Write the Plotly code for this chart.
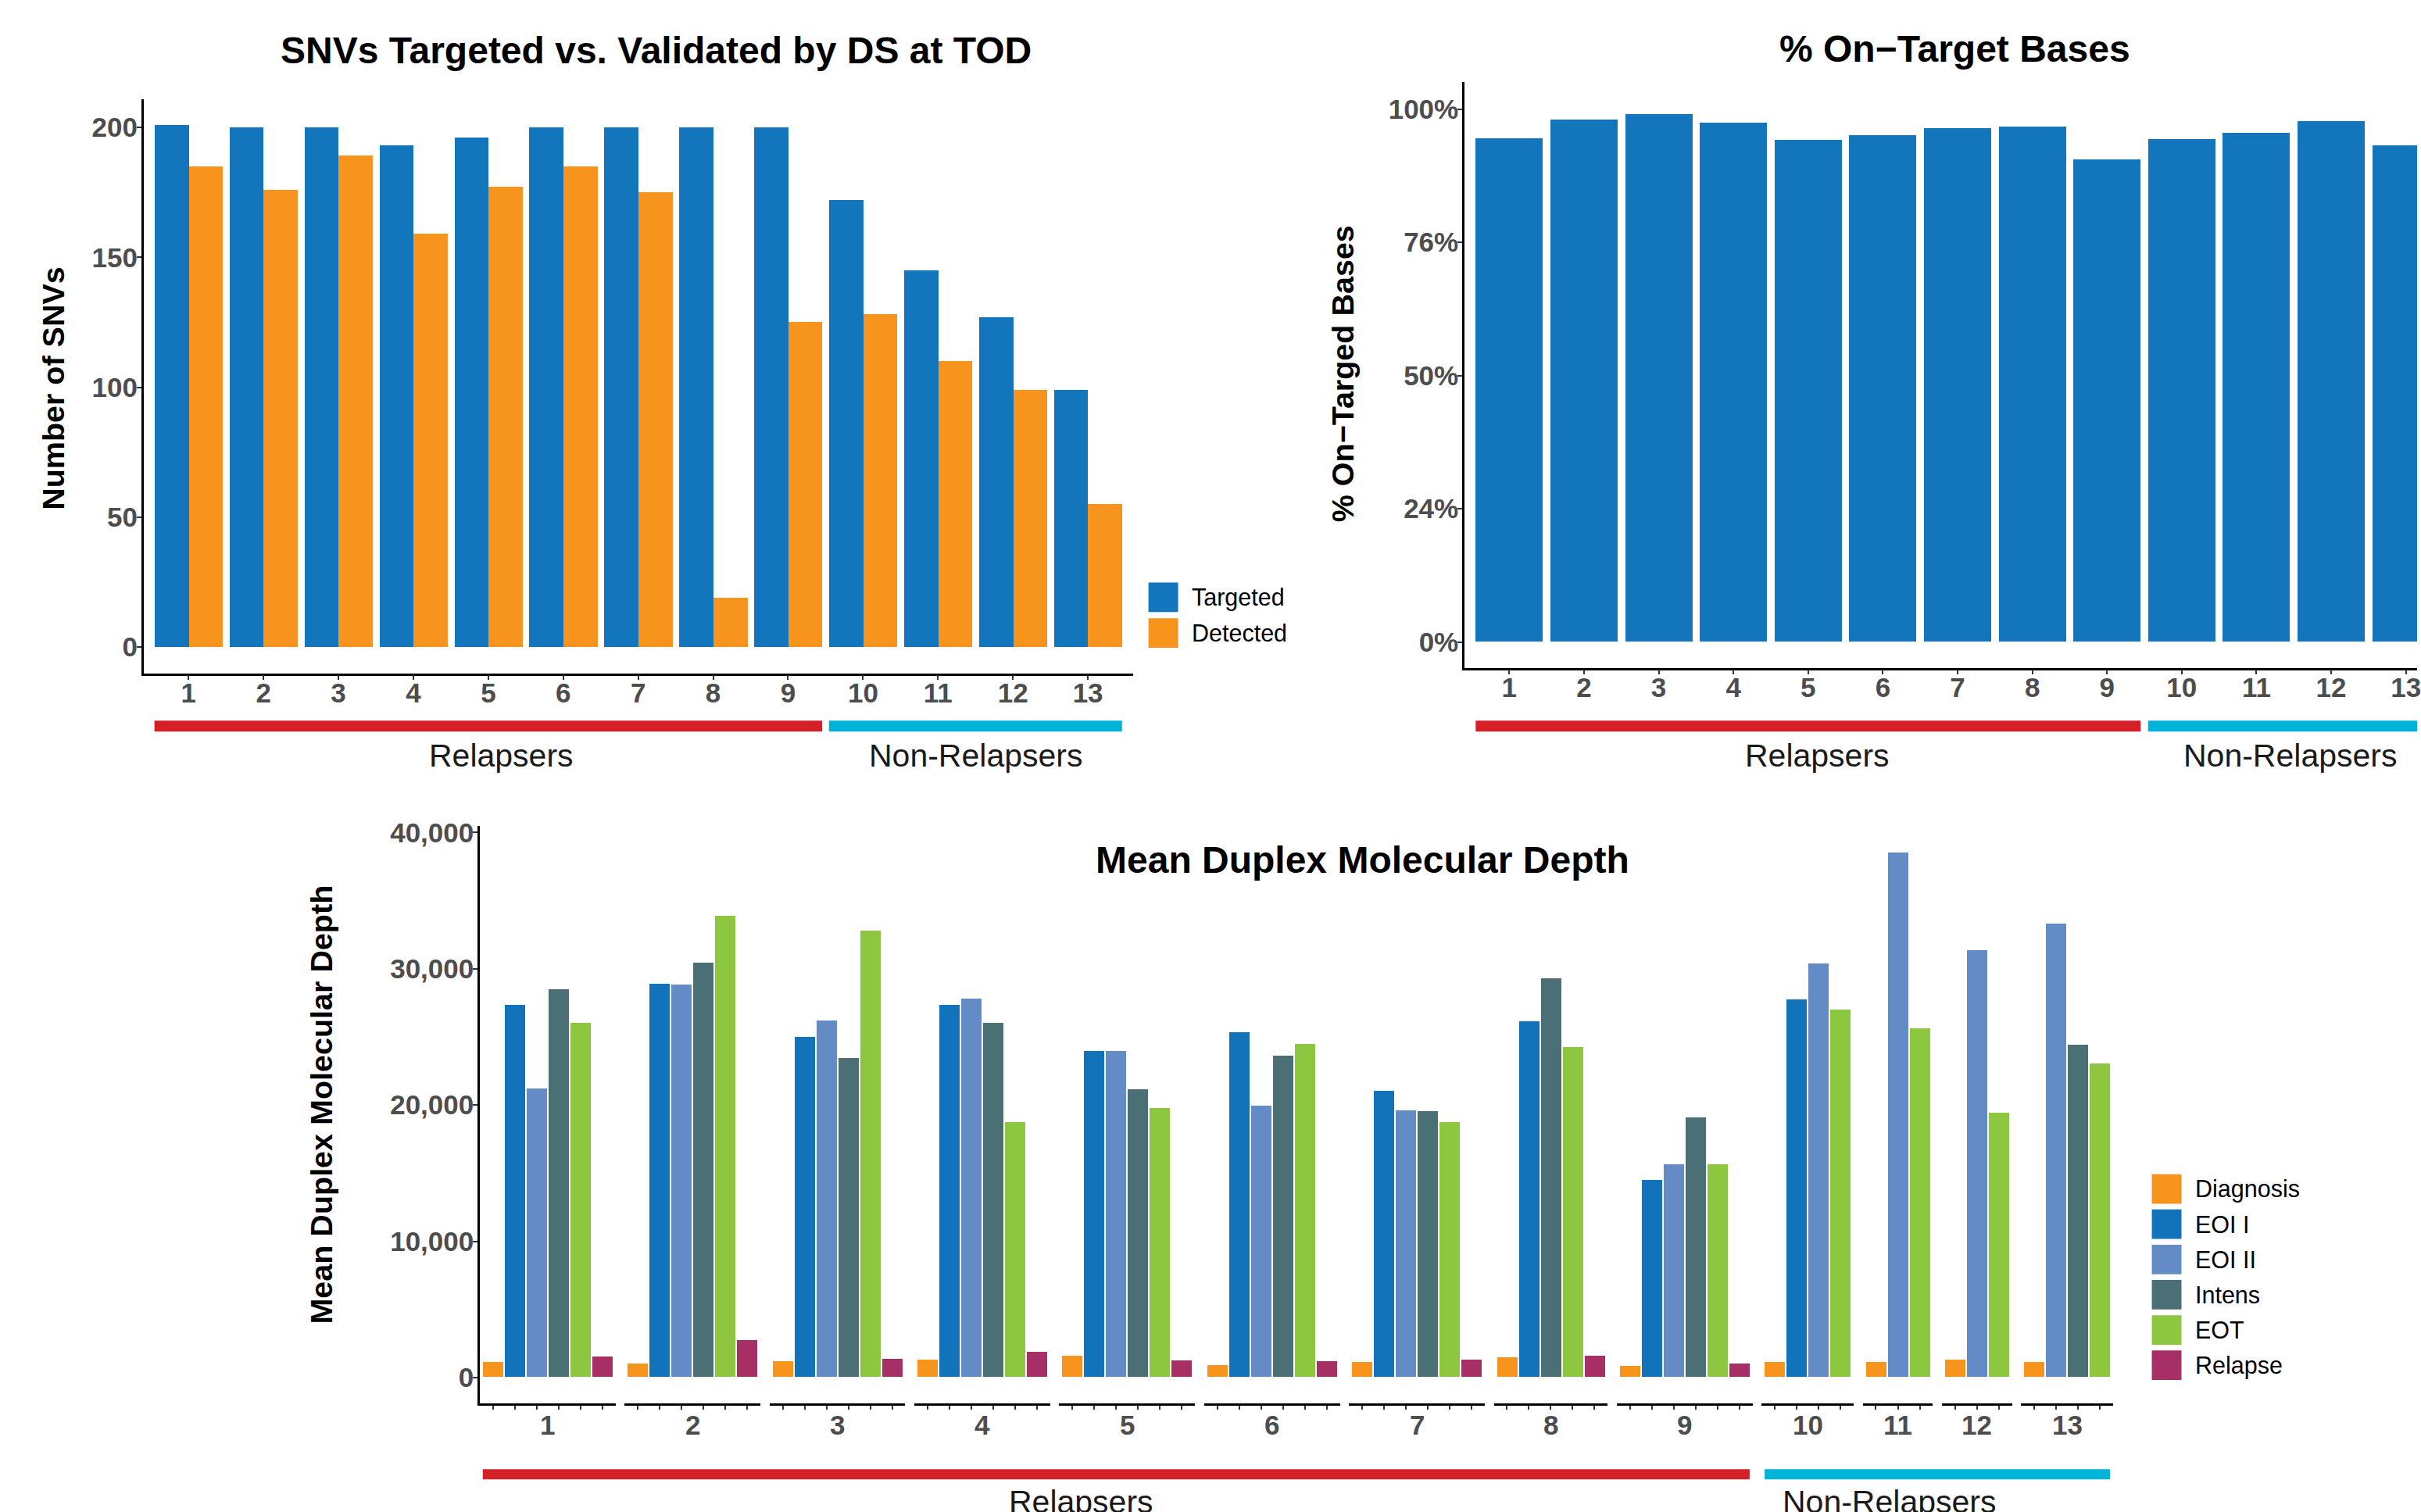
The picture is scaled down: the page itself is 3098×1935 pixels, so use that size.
import plotly.graph_objects as go

# ---------------------------------------------------------------- data
patients = [str(i) for i in range(1, 14)]
relapser_count = 9  # patients 1-9 relapsed, 10-13 did not

# SNVs targeted vs. detected by duplex sequencing at time of diagnosis
snv_targeted = [201, 200, 200, 193, 196, 200, 200, 200, 200, 172, 145, 127, 99]
snv_detected = [185, 176, 189, 159, 177, 185, 175, 19, 125, 128, 110, 99, 55]
snv_ticks = [0, 50, 100, 150, 200]

# percentage of sequenced bases falling on target
on_target_pct = [94.4, 97.9, 99.0, 97.4, 94.1, 95.0, 96.4, 96.6, 90.5, 94.3, 95.4, 97.7, 93.1]
pct_tick_vals = [0, 25, 50, 75, 100]
pct_tick_text = ["0%", "24%", "50%", "76%", "100%"]

# mean duplex molecular depth per timepoint (None = timepoint not sampled)
timepoints = ["Diagnosis", "EOI I", "EOI II", "Intens", "EOT", "Relapse"]
depth_diagnosis = [1140, 1000, 1170, 1300, 1570, 900, 1140, 1470, 840, 1140, 1140, 1300, 1140]
depth_eoi1 = [27300, 28900, 25000, 27300, 23950, 25300, 21000, 26100, 14500, 27700, None, None, None]
depth_eoi2 = [21200, 28800, 26200, 27800, 23950, 19900, 19600, None, 15600, 30350, 38500, 31350, 33300]
depth_intens = [28500, 30400, 23400, 26000, 21150, 23600, 19530, 29300, 19050, None, None, None, 24400]
depth_eot = [26000, 33850, 32800, 18700, 19750, 24450, 18730, 24200, 15600, 27000, 25600, 19400, 23000]
depth_relapse = [1540, 2740, 1370, 1870, 1240, 1170, 1300, 1570, 1000, None, None, None, None]
depth_ticks = [0, 10000, 20000, 30000, 40000]

depth_series = [depth_diagnosis, depth_eoi1, depth_eoi2, depth_intens, depth_eot, depth_relapse]

# ---------------------------------------------------------------- styling
W, H = 3098, 1935
BLUE = "#1375BB"
ORANGE = "#F7941E"
TP_COLORS = ["#F7941E", "#1273BA", "#638BC6", "#4A6F74", "#8DC63F", "#A62F66"]
RED = "#D42027"
CYAN = "#00B3D9"
SANS = "Liberation Sans, Arial, Helvetica, sans-serif"
TICK_FONT = dict(family=SANS, size=35, color="#4D4D4D", weight="bold")


def fx(px):
    return px / W


def fy(py):
    return 1 - py / H


axis_style = dict(
    showline=True, linecolor="black", linewidth=2.5, mirror=False,
    ticks="outside", ticklen=6, tickwidth=2, tickcolor="#333333",
    showgrid=False, zeroline=False, tickfont=TICK_FONT, fixedrange=True,
)
x_style = dict(axis_style, ticklabelstandoff=-13)
y_style = dict(axis_style, ticklabelstandoff=-8)

fig = go.Figure()
layout = dict(
    width=W, height=H, margin=dict(l=0, r=0, t=0, b=0),
    paper_bgcolor="white", plot_bgcolor="white", showlegend=False,
    bargap=0, font=dict(family=SANS),
)
annotations = []
shapes = []

# ---------------------------------------------------------------- panel A: SNVs
fig.add_trace(go.Bar(x=patients, y=snv_targeted, name="Targeted", width=0.455, offset=-0.455,
                     marker=dict(color=BLUE, line=dict(width=0)), xaxis="x", yaxis="y"))
fig.add_trace(go.Bar(x=patients, y=snv_detected, name="Detected", width=0.455, offset=0,
                     marker=dict(color=ORANGE, line=dict(width=0)), xaxis="x", yaxis="y"))
layout["xaxis"] = dict(x_style, type="category", categoryarray=patients,
                       domain=[fx(184), fx(1452)], range=[-0.6, 12.6], anchor="y")
layout["yaxis"] = dict(y_style, domain=[fy(855), fy(116)], range=[-10.07, 210.8],
                       tickvals=snv_ticks, anchor="x")

# ---------------------------------------------------------------- panel B: on-target
fig.add_trace(go.Bar(x=patients, y=on_target_pct, name="On-target", width=0.9, offset=-0.45,
                     marker=dict(color=BLUE, line=dict(width=0)), xaxis="x2", yaxis="y2"))
layout["xaxis2"] = dict(x_style, type="category", categoryarray=patients,
                        domain=[fx(1877), 1.0], range=[-0.6, 12.15], anchor="y2")
layout["yaxis2"] = dict(y_style, domain=[fy(848), fy(94)], range=[-4.84, 105.0],
                        tickvals=pct_tick_vals, ticktext=pct_tick_text, anchor="x2")

# ---------------------------------------------------------------- panel C: duplex depth, one facet per patient
unit, gap, left = 28.06, 11.7, 615.0
facet_info = []
for i, pid in enumerate(patients):
    present = [(tp, s[i], TP_COLORS[j]) for j, (tp, s) in enumerate(zip(timepoints, depth_series))
               if s[i] is not None]
    n = len(present)
    width_px = (n + 0.2) * unit
    d0, d1 = fx(left), fx(left + width_px)
    left += width_px + gap
    ax_id = i + 3
    xname = f"x{ax_id}"
    for tp, val, col in present:
        fig.add_trace(go.Bar(x=[tp], y=[val], name=tp, width=0.93, offset=-0.465,
                             marker=dict(color=col, line=dict(width=0)),
                             xaxis=xname, yaxis="y3"))
    cats = [p[0] for p in present]
    layout[f"xaxis{ax_id}"] = dict(axis_style, type="category", categoryarray=cats,
                                   tickvals=cats, showticklabels=False, ticklen=5,
                                   domain=[d0, d1], range=[-0.6, n - 0.4], anchor="y3")
    facet_info.append((d0, d1, n))
    annotations.append(dict(text=pid, x=(d0 + d1) / 2, y=fy(1823), xref="paper", yref="paper",
                            xanchor="center", yanchor="middle", showarrow=False, font=TICK_FONT))

layout["yaxis3"] = dict(y_style, domain=[fy(1795), fy(1052)], range=[-1891, 40458],
                        tickvals=depth_ticks, tickformat=",", anchor="x3")


def facet_px(k, v):
    d0, d1, n = facet_info[k]
    return d0 + (v + 0.6) / (n + 0.2) * (d1 - d0)


# ---------------------------------------------------------------- group bars under each panel
def group_rect(xref, x0, x1, color, y0px, y1px):
    shapes.append(dict(type="rect", xref=xref, yref="paper", x0=x0, x1=x1,
                       y0=fy(y1px), y1=fy(y0px), fillcolor=color, line=dict(width=0), layer="above"))


last = len(patients) - 1
group_rect("x", -0.455, relapser_count - 1 + 0.455, RED, 916, 930)
group_rect("x", relapser_count - 0.455, last + 0.455, CYAN, 916, 930)
group_rect("x2", -0.45, relapser_count - 1 + 0.45, RED, 916, 930)
group_rect("x2", relapser_count - 0.45, last + 0.7, CYAN, 916, 930)
k_last_rel = relapser_count - 1
group_rect("paper", facet_px(0, -0.465), facet_px(k_last_rel, facet_info[k_last_rel][2] - 1 + 0.465),
           RED, 1880, 1893)
group_rect("paper", facet_px(relapser_count, -0.465), facet_px(last, facet_info[last][2] - 1 + 0.465),
           CYAN, 1880, 1893)

GROUP_FONT = dict(family=SANS, size=41, color="#1A1A1A")
for xref, xr, xn, ypx in [("x", 4.17, 10.5, 961), ("x2", 4.12, 10.45, 961)]:
    annotations.append(dict(text="Relapsers", x=xr, y=fy(ypx), xref=xref, yref="paper",
                            xanchor="center", yanchor="middle", showarrow=False, font=GROUP_FONT))
    annotations.append(dict(text="Non-Relapsers", x=xn, y=fy(ypx), xref=xref, yref="paper",
                            xanchor="center", yanchor="middle", showarrow=False, font=GROUP_FONT))
annotations.append(dict(text="Relapsers", x=fx(1386), y=fy(1922), xref="paper", yref="paper",
                        xanchor="center", yanchor="middle", showarrow=False, font=GROUP_FONT))
annotations.append(dict(text="Non-Relapsers", x=fx(2421), y=fy(1922), xref="paper", yref="paper",
                        xanchor="center", yanchor="middle", showarrow=False, font=GROUP_FONT))

# ---------------------------------------------------------------- titles
TITLE_FONT = dict(family=SANS, size=48, color="black", weight="bold")
for text, xpx, ypx in [("SNVs Targeted vs. Validated by DS at TOD", 841, 53),
                       ("% On\u2212Target Bases", 2506, 51),
                       ("Mean Duplex Molecular Depth", 1746, 1095)]:
    annotations.append(dict(text=text, x=fx(xpx), y=fy(ypx), xref="paper", yref="paper",
                            xanchor="center", yanchor="middle", showarrow=False, font=TITLE_FONT))

AXT_FONT = dict(family=SANS, size=39.5, color="black", weight="bold")
for text, xpx, ypx in [("Number of SNVs", 68, 488),
                       ("% On\u2212Targed Bases", 1721, 469),
                       ("Mean Duplex Molecular Depth", 412, 1410)]:
    annotations.append(dict(text=text, x=fx(xpx), y=fy(ypx), xref="paper", yref="paper",
                            xanchor="center", yanchor="middle", textangle=-90, showarrow=False,
                            font=AXT_FONT))

# ---------------------------------------------------------------- legends
LEG_FONT = dict(family=SANS, size=30.5, color="black")


def legend(entries, x_px, top_px, step_px, size_px=38, text_dx=15):
    for i, (name, col) in enumerate(entries):
        t = top_px + i * step_px
        shapes.append(dict(type="rect", xref="paper", yref="paper", x0=fx(x_px), x1=fx(x_px + size_px),
                           y0=fy(t + size_px), y1=fy(t), fillcolor=col, line=dict(width=0)))
        annotations.append(dict(text=name, x=fx(x_px + size_px + text_dx), y=fy(t + size_px / 2),
                                xref="paper", yref="paper", xanchor="left", yanchor="middle",
                                showarrow=False, font=LEG_FONT))


legend([("Targeted", BLUE), ("Detected", ORANGE)], 1472, 738, 46)
legend(list(zip(timepoints, TP_COLORS)), 2758, 1500, 45.4, size_px=38, text_dx=16)

layout["annotations"] = annotations
layout["shapes"] = shapes
fig.update_layout(**layout)
fig.write_html("out.html")
